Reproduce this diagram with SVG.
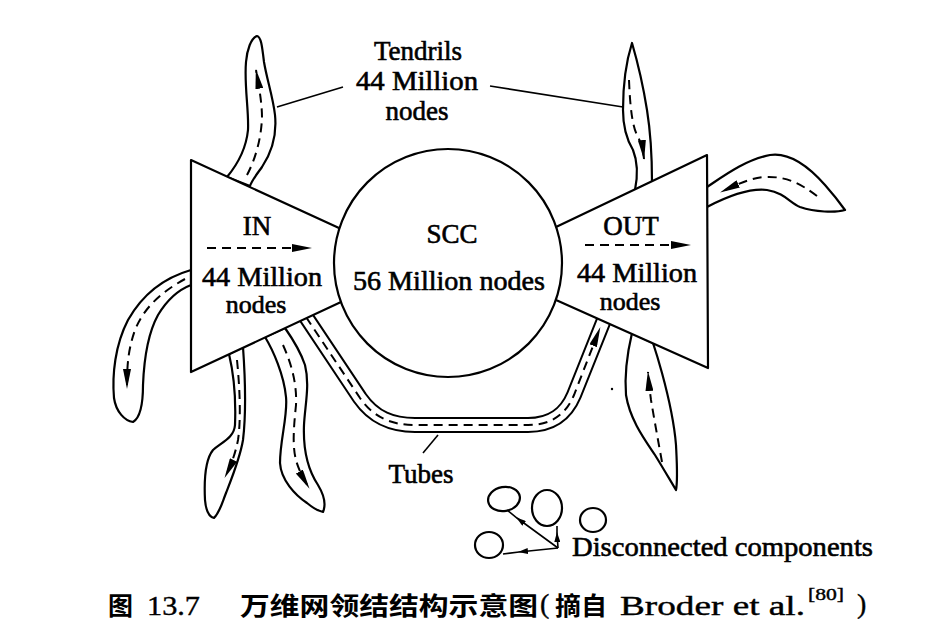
<svg xmlns="http://www.w3.org/2000/svg" width="926" height="637" viewBox="0 0 926 637">
<style>
  .out{fill:#fff;stroke:#000;stroke-width:2.2;stroke-linejoin:round}
  .dash{fill:none;stroke:#000;stroke-width:2;stroke-dasharray:9 6}
  .ln{fill:none;stroke:#000;stroke-width:1.6}
  .t{font-family:"Liberation Serif","Times New Roman",serif;font-size:27px;fill:#000;stroke:#000;stroke-width:0.6;text-anchor:middle}
  .n{font-size:26px}
  .cap{font-family:"Noto Sans CJK SC","Noto Sans CJK TC",sans-serif;font-size:25px;font-weight:bold;fill:#000}
  .capl{font-family:"Liberation Serif","Times New Roman",serif;font-size:28px;fill:#000;stroke:#000;stroke-width:0.4}
</style>
<defs>
  <marker id="ah" viewBox="0 0 20 8" refX="19" refY="4" markerWidth="20" markerHeight="8" markerUnits="userSpaceOnUse" orient="auto">
    <path d="M0,0 L20,4 L0,8 Z" fill="#000"/>
  </marker>
  <marker id="sm" viewBox="0 0 10 6" refX="9" refY="3" markerWidth="10" markerHeight="6" markerUnits="userSpaceOnUse" orient="auto">
    <path d="M0,0 L10,3 L0,6 Z" fill="#000"/>
  </marker>
</defs>

<g id="tendrils">
  <g id="tendril-in-top">
    <path class="out" d="M227,177 C237,165 246,150 248,130 C249,110 244,85 246,62 C247,50 251,38 257,36 C261,37 262,45 264,62 C267,80 273,97 275,115 C277,135 272,152 262,167 C257,174 252,180 250,186 Z"/>
    <path class="dash" d="M247,175 C255,160 261,140 262,118 C262,105 260,92 256,70" marker-end="url(#ah)"/>
  </g>
  <g id="tendril-in-left">
    <path class="out" d="M191,270 C170,276 145,290 128,320 C115,345 112,375 114,398 C116,412 125,421 133,422 C140,418 143,405 143,385 C144,360 147,335 158,315 C167,300 178,290 191,285 Z"/>
    <path class="dash" d="M185,279 C165,290 145,305 135,330 C128,350 127,365 127,388" marker-end="url(#ah)"/>
  </g>
  <g id="tendril-in-bottom-a">
    <path class="out" d="M229,354 C234,375 236,400 235,425 C234,438 222,442 213,450 C205,460 204,480 205,500 C206,512 210,517 214,518 C220,512 222,503 226,493 C233,475 240,458 243,440 C246,415 245,375 243,347 Z"/>
    <path class="dash" d="M237,360 C240,390 241,420 238,440 C235,455 231,465 225,477" marker-end="url(#ah)"/>
  </g>
  <g id="tendril-in-bottom-b">
    <path class="out" d="M265,337 C273,350 284,375 286,397 C288,415 280,440 280,463 C281,480 295,495 307,503 C313,508 318,511 323,512 C326,505 324,495 318,485 C308,470 303,450 304,425 C305,405 310,385 305,365 C300,350 292,338 285,328 Z"/>
    <path class="dash" d="M283,345 C292,365 297,385 296,405 C294,425 292,445 296,460 C298,468 302,476 309,488" marker-end="url(#ah)"/>
  </g>
  <g id="tendril-out-top">
    <path class="out" d="M635,190 C638,175 637,160 633,150 C627,140 623,128 623,110 C623,90 625,65 632,43 C637,60 643,85 647,110 C651,135 652,160 652,182 Z"/>
    <path class="dash" d="M629,80 C630,105 632,125 637,135 C641,142 643,150 644,159" marker-end="url(#ah)"/>
  </g>
  <g id="tendril-out-right">
    <path class="out" d="M707,187 C725,175 745,160 770,155 C790,152 810,168 825,185 C833,194 840,203 845,210 C835,213 815,212 800,207 C790,203 785,193 767,190 C750,188 730,195 707,207 Z"/>
    <path class="dash" d="M817,196 C800,183 785,176 765,177 C750,178 738,184 721,192" marker-end="url(#ah)"/>
  </g>
  <g id="tendril-out-bottom">
    <path class="out" d="M632,333 C628,350 624,370 626,395 C630,420 645,440 655,455 C663,468 670,480 676,490 C678,480 677,465 676,445 C674,420 668,395 662,373 C659,362 656,352 653,343 Z"/>
    <path class="dash" d="M662,462 C658,440 654,418 651,400 C650,392 649,385 648,372" marker-end="url(#ah)"/>
  </g>
</g>

<g id="tubes">
  <path d="M296,302 L360,398 C374,418 392,425 415,425 L528,425 C552,425 566,414 574,395 L610,305" fill="none" stroke="#000" stroke-width="16"/>
  <path d="M296,302 L360,398 C374,418 392,425 415,425 L528,425 C552,425 566,414 574,395 L610,305" fill="none" stroke="#fff" stroke-width="12"/>
  <path class="dash" d="M306,317 L360,398 C374,418 392,425 415,425 L528,425 C552,425 566,414 574,395 L600,328" marker-end="url(#ah)"/>
</g>

<g id="in">
  <polygon class="out" points="191,160 339,228 341,302 191,372"/>
  <text class="t" x="257" y="235">IN</text>
  <path class="dash" d="M207,248 L311,248" stroke-dasharray="10 7" marker-end="url(#ah)"/>
  <text class="t" x="262" y="286" textLength="120" lengthAdjust="spacingAndGlyphs">44 Million</text>
  <text class="t n" x="256" y="313">nodes</text>
</g>

<g id="out">
  <polygon class="out" points="707,155 556,227 556,300 708,368"/>
  <text class="t" x="631" y="235">OUT</text>
  <path class="dash" d="M585,245 L690,245" stroke-dasharray="10 7" marker-end="url(#ah)"/>
  <text class="t" x="637" y="282" textLength="120" lengthAdjust="spacingAndGlyphs">44 Million</text>
  <text class="t n" x="630" y="310">nodes</text>
</g>

<g id="scc">
  <circle class="out" cx="448" cy="263" r="114"/>
  <text class="t" x="452" y="243">SCC</text>
  <text class="t" x="449" y="290" textLength="192" lengthAdjust="spacingAndGlyphs">56 Million nodes</text>
</g>

<g id="labels">
  <text class="t" x="418" y="60">Tendrils</text>
  <text class="t" x="417" y="90" textLength="122" lengthAdjust="spacingAndGlyphs">44 Million</text>
  <text class="t" x="417" y="120">nodes</text>
  <text class="t" x="421" y="483">Tubes</text>
</g>

<g id="disconnected">
  <ellipse class="out" cx="504" cy="499" rx="16" ry="12" transform="rotate(-10 504 499)"/>
  <ellipse class="out" cx="547" cy="508" rx="15" ry="18"/>
  <ellipse class="out" cx="593" cy="520" rx="13" ry="12"/>
  <ellipse class="out" cx="489" cy="545" rx="14" ry="13"/>
  <text class="t" x="572" y="556" style="text-anchor:start" textLength="301" lengthAdjust="spacingAndGlyphs">Disconnected components</text>
</g>

<g id="connectors">
  <line class="ln" x1="277" y1="107" x2="343" y2="87"/>
  <line class="ln" x1="490" y1="86" x2="623" y2="107"/>
  <line class="ln" x1="423" y1="453" x2="438" y2="435"/>
  <path class="ln" d="M558,548 L517,518 L507,510" marker-mid="url(#sm)"/>
  <path class="ln" d="M558,548 L519,552 L503,554" marker-mid="url(#sm)"/>
  <path class="ln" d="M558,548 L557,533 L557,526" marker-mid="url(#sm)"/>
</g>

<circle cx="612" cy="389" r="1.2" fill="#000"/>

<g id="caption">
  <text class="cap" x="108" y="615">图</text>
  <text class="capl" x="147" y="615" textLength="53" lengthAdjust="spacingAndGlyphs">13.7</text>
  <text class="cap" x="240" y="615" textLength="298" lengthAdjust="spacingAndGlyphs">万维网领结结构示意图</text>
  <text class="capl" x="540" y="613">(</text>
  <text class="cap" x="555" y="615" textLength="52" lengthAdjust="spacingAndGlyphs">摘自</text>
  <text class="capl" x="620" y="615" textLength="185" lengthAdjust="spacingAndGlyphs">Broder et al.</text>
  <text class="capl" x="808" y="600" style="font-size:16px" textLength="36" lengthAdjust="spacingAndGlyphs">[80]</text>
  <text class="capl" x="857" y="613">)</text>
</g>
</svg>
